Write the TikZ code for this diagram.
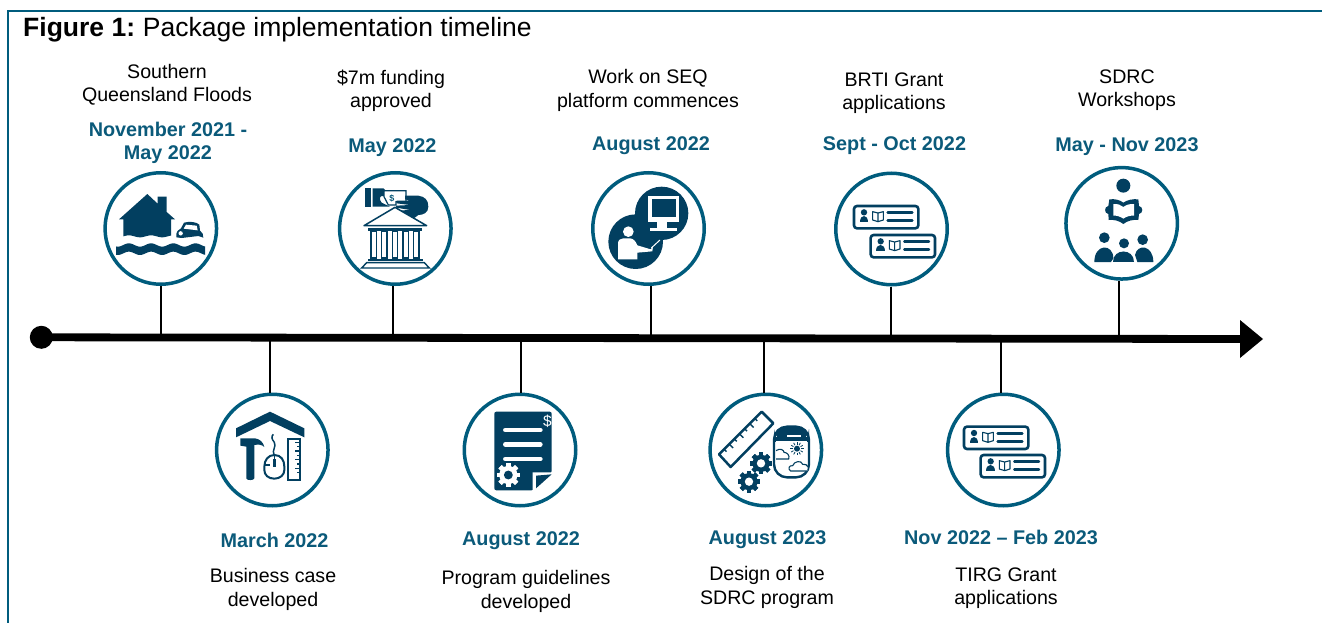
\documentclass[tikz,border=0pt]{standalone}
\usepackage{fontspec}
\setmainfont{Liberation Sans}
\definecolor{ringc}{HTML}{005C7D}
\definecolor{darkc}{HTML}{023F60}
\definecolor{datec}{HTML}{0B5A7A}
\tikzset{
  ring/.style={circle,draw=ringc,line width=3.5pt,fill=white,minimum size=111.5pt,inner sep=0pt},
  stem/.style={draw=black,line width=1.7pt},
  lab/.style={font=\fontsize{19.6}{23.2}\selectfont,align=center,text=black,inner sep=0pt,yshift=-2pt},
  dat/.style={font=\fontsize{19.8}{23.2}\selectfont\bfseries,align=center,text=datec,inner sep=0pt,yshift=-2pt},
  zoomed/.style={x=0.33333pt,y=-0.33333pt},
  cardicon/.pic={
    \draw[darkc,line width=2.6pt,rounded corners=3pt] (0,0) rectangle (193,67);
    \fill[darkc] (30,19) circle[radius=9.5];
    \fill[darkc] (17,48) .. controls (17,25) and (43,25) .. (43,48) -- cycle;
    \draw[darkc,line width=1.1pt,line join=round] (56,17) -- (72,21) -- (88,17) -- (88,42) -- (72,47) -- (56,42) -- cycle (72,21) -- (72,47);
    \draw[darkc,line width=2.4pt,line cap=round] (101,20) -- (175,20) (101,44) -- (175,44);
  }
}
\newcommand{\gearglyph}[5]{%
  \foreach \a in {0,45,...,315}{
    \fill[#4,rotate around={\a:(#1,#2)}] (#1-0.2*#3,#2-#3) rectangle (#1+0.2*#3,#2+#3);
  }
  \fill[#4] (#1,#2) circle[radius=0.78*#3];
  \fill[#5] (#1,#2) circle[radius=0.38*#3];
}
\begin{document}
\begin{tikzpicture}[x=1pt,y=-1pt]
\useasboundingbox (0,0) rectangle (1322,623);
% frame
\coordinate (fa) at (8,623);
\coordinate (fb) at (8,11);
\coordinate (fc) at (1322,11);
\draw[ringc,line width=2pt] (fa) -- (fb) -- (fc);
\node[anchor=west,inner sep=0pt,font=\fontsize{26.5}{30}\selectfont] (title) at (23,30) {\textbf{Figure 1:}\kern-2pt{} Package implementation timeline};
% axis
\coordinate (start) at (41.3,337.3);
\coordinate (end) at (1240,339);
\coordinate (tip) at (1263,339);
\coordinate (a1) at (160.7,337);
\coordinate (a2) at (392.7,337);
\coordinate (a3) at (651.3,337);
\coordinate (a4) at (891,338);
\coordinate (a5) at (1119,338);
\coordinate (b1) at (270,337);
\coordinate (b2) at (521.3,337);
\coordinate (b3) at (764,338);
\coordinate (b4) at (1001.3,338);
% circles
\node[ring] (c1) at (160.8,228.5) {};
\node[ring] (c2) at (395.3,228.5) {};
\node[ring] (c3) at (648.5,228.5) {};
\node[ring] (c4) at (891.5,229) {};
\node[ring] (c5) at (1121.7,223.3) {};
\node[ring] (d1) at (272.3,450) {};
\node[ring] (d2) at (520,450) {};
\node[ring] (d3) at (765.8,450) {};
\node[ring] (d4) at (1003.3,450) {};
% stems
\foreach \p/\q in {a1/c1,a2/c2,a3/c3,a4/c4,a5/c5}{
  \draw[stem] (\p) -- (\p |- \q.south);
}
\foreach \p/\q in {b1/d1,b2/d2,b3/d3,b4/d4}{
  \draw[stem] (\p) -- (\p |- \q.north);
}
\draw[black,line width=7.8pt] (start) -- (end);
\fill[black] (start) circle[radius=11.5];
\fill[black] (1240,320) -- (tip) -- (1240,358) -- cycle;
% labels top
\node[lab] (t1) at (167,82.5) {Southern\\Queensland Floods};
\node[dat] (u1) at (168,140.5) {November 2021 -\\May 2022};
\node[lab] (t2) at (391,88.5) {\$7m funding\\approved};
\node[dat] (u2) at (392.5,145.5) {May 2022};
\node[lab] (t3) at (648,88.5) {Work on SEQ\\platform commences};
\node[dat] (u3) at (651,143.5) {August 2022};
\node[lab] (t4) at (894,91.5) {BRTI Grant\\applications};
\node[dat] (u4) at (894.5,143.5) {Sept - Oct 2022};
\node[lab] (t5) at (1127,88.5) {SDRC\\Workshops};
\node[dat] (u5) at (1127,144.5) {May - Nov 2023};
% labels bottom
\node[dat] (v1) at (274.5,538) {March 2022};
\node[lab] (w1) at (273,587.5) {Business case\\developed};
\node[dat] (v2) at (521,539) {August 2022};
\node[lab] (w2) at (526,589.5) {Program guidelines\\developed};
\node[dat] (v3) at (767.5,538) {August 2023};
\node[lab] (w3) at (767,585.5) {Design of the\\SDRC program};
\node[dat] (v4) at (1001,535) {Nov 2022 – Feb 2023};
\node[lab] (w4) at (1006,586) {TIRG Grant\\applications};
% ---------- icon 1 and 2
\begin{scope}[shift={(90pt,-160pt)},zoomed]
  \fill[darkc] (172,102) -- (203,131) -- (203,110) -- (230,110) -- (230,156) -- (255,178) -- (243,178)
     -- plot[domain=243:100,samples=30] (\x,{229+3*sin(\x*5.4)}) -- (100,178) -- (87,178) -- cycle;
  \fill[darkc] plot[domain=78:345,samples=60] (\x,{255+5*sin(\x*5.4)}) -- plot[domain=345:78,samples=60] (\x,{280+5*sin(\x*5.4)}) -- cycle;
  \fill[darkc] (259,232) .. controls (257,214) and (266,208) .. (273,205) -- (282,188) .. controls (300,183) and (320,186) .. (328,194) -- (330,212) .. controls (338,216) and (340,224) .. (340,233) -- (325,228) -- (275,234) -- cycle;
  \fill[white] (288,194) -- (320,197) -- (323,211) -- (281,206) -- cycle;
  \fill[white] (272,220) circle[radius=6.5];
  % hand and bank
  \fill[darkc] (826,85) rectangle (843,140);
  \fill[darkc] (848,85) -- (880,85) -- (903,108) -- (875,108) .. controls (868,110) and (868,120) .. (875,128) -- (900,140) -- (848,140) -- cycle;
  \draw[darkc,line width=1.2pt,fill=white] (882,92) -- (948,92) -- (948,125) -- (918,125) -- (918,135) -- (895,135) -- (882,110) -- cycle;
  \node[inner sep=0pt,text=datec,font=\fontsize{9}{9}\selectfont\bfseries] (d) at (906,115) {\$};
  \fill[darkc] (945,107) -- (985,107) .. controls (1005,110) and (1015,120) .. (1015,140) .. controls (1015,158) and (1000,165) .. (985,165) -- (968,178) -- (932,178) -- (932,170) -- (960,168) -- (918,160) -- (918,152) -- (960,150) -- (918,143) -- (918,137) -- (960,135) -- (920,130) -- (920,122) -- (960,122) -- (945,118) -- cycle;
  \draw[darkc,line width=1.5pt,fill=white,line join=round] (915,142) -- (822,197) -- (1010,197) -- cycle;
  \fill[darkc] (835,205) rectangle (997,212);
  \foreach \cx in {851,883,915,947,979}{
    \draw[darkc,line width=1.2pt] (\cx-8,214) rectangle (\cx+8,294);
  }
  \fill[darkc] (833,296) rectangle (1000,302);
  \draw[darkc,line width=1.4pt] (815,324) -- (830,308) -- (1003,308) -- (1018,324) -- cycle;
\end{scope}
% ---------- icon 3 and 4
\begin{scope}[shift={(580pt,-160pt)},zoomed]
  \fill[darkc] (245,160) circle[radius=80];
  \fill[darkc] (167,245) circle[radius=82];
  \fill[white] (205,108) rectangle (297,185);
  \fill[darkc] (217,118) rectangle (287,170);
  \fill[white] (232,185) rectangle (262,205);
  \fill[white] (210,204) rectangle (292,213);
  \fill[white] (145,215) circle[radius=16];
  \fill[white] (114,298) -- (114,250) .. controls (114,240) and (122,235) .. (130,235) -- (150,235) .. controls (160,235) and (168,245) .. (172,256) -- (212,268) -- (219,260) -- (217,274) -- (172,278) -- (172,298) -- cycle;
  \draw[white,line width=1pt] (214,264) -- (240,240);
  \pic at (822,138) {cardicon};
  \pic at (872,225) {cardicon};
\end{scope}
% ---------- icon 5
\begin{scope}[shift={(1050pt,-160pt)},zoomed]
  \fill[darkc] (220,77) circle[radius=21];
  \fill[darkc] (178,118) .. controls (195,116) and (210,120) .. (220,128) .. controls (230,120) and (250,116) .. (265,118) -- (267,138) .. controls (280,140) and (280,160) .. (267,162) -- (265,180) .. controls (250,178) and (232,182) .. (220,192) .. controls (208,182) and (190,178) .. (176,180) -- (175,162) .. controls (162,160) and (162,140) .. (175,138) -- cycle;
  \fill[white] (190,132) .. controls (203,131) and (213,135) .. (220,141) .. controls (227,135) and (240,131) .. (252,132) -- (252,167) .. controls (240,166) and (228,170) .. (220,176) .. controls (212,170) and (200,166) .. (190,167) -- cycle;
  \fill[darkc] (163,233) circle[radius=16];
  \fill[darkc] (222,250) circle[radius=15];
  \fill[darkc] (278,239) circle[radius=16];
  \fill[darkc] (133,306) .. controls (133,250) and (190,250) .. (190,295) -- (183,306) -- cycle;
  \fill[darkc] (310,306) .. controls (310,255) and (262,250) .. (255,285) -- (262,306) -- cycle;
  \fill[darkc] (190,307) .. controls (190,265) and (252,265) .. (252,307) -- cycle;
\end{scope}
% ---------- icon 6 and 7
\begin{scope}[shift={(205pt,-385pt)},zoomed]
  \fill[darkc] (93,130) -- (195,80) -- (298,130) -- (298,157) -- (195,108) -- (93,157) -- cycle;
  \fill[darkc] (106,160) -- (150,160) .. controls (165,162) and (175,172) .. (178,186) .. controls (170,178) and (160,178) .. (148,180) -- (148,280) .. controls (148,287) and (124,287) .. (124,280) -- (124,185) -- (106,182) -- cycle;
  \draw[darkc,line width=2pt] (208,210) .. controls (228,210) and (238,225) .. (238,245) -- (238,255) .. controls (238,270) and (225,281) .. (208,281) .. controls (190,281) and (178,270) .. (178,255) -- (178,245) .. controls (178,225) and (190,210) .. cycle;
  \draw[darkc,line width=1.5pt] (208,210) -- (208,228) (178,240) -- (195,240);
  \fill[darkc] (203,222) rectangle (213,245);
  \draw[darkc,line width=1.5pt] (207,210) .. controls (200,195) and (215,185) .. (208,172) .. controls (200,162) and (198,155) .. (205,148);
  \draw[darkc,line width=2pt] (250,161) rectangle (284,284);
  \foreach \ty/\tl in {172/14,185/9,198/14,211/9,224/14,237/9,250/14,263/9}{
    \draw[darkc,line width=1.3pt] (284,\ty) -- (284-\tl,\ty);
  }
  % document
  \fill[darkc,rounded corners=2pt] (868,80) -- (1040,80) -- (1040,264) -- (985,316) -- (868,316) -- cycle;
  \fill[white] (983,316) -- (983,262) -- (1042,262) -- (1042,268) -- (990,318) -- cycle;
  \fill[darkc] (993,310) -- (993,272) -- (1040,268) -- cycle;
  \foreach \by in {135,178,222}{
    \draw[white,line width=4.6pt,line cap=round] (901,\by) -- (1006,\by);
  }
  \node[inner sep=0pt,text=white,font=\fontsize{15.5}{16}\selectfont] (dd) at (1027,110) {\$};
  \gearglyph{910}{270}{35}{white}{darkc}
\end{scope}
% ---------- icon 8 and 9
\begin{scope}[shift={(700pt,-385pt)},zoomed]
  \draw[darkc,line width=2.5pt,line join=round] (185,80) -- (220,115) -- (92,246) -- (57,208) -- cycle;
  \foreach \tt/\tl in {0.12/10,0.24/16,0.36/10,0.48/16,0.6/10,0.72/16,0.84/10}{
    \draw[darkc,line width=1.5pt] ({57+\tt*128},{208-\tt*128}) -- ++({\tl*0.72},{\tl*0.72});
  }
  \gearglyph{183}{235}{33}{darkc}{white}
  \gearglyph{147}{290}{33}{darkc}{white}
  \draw[darkc,line width=2.4pt,fill=white,rounded corners=13pt] (222,125) rectangle (327,277);
  \fill[darkc,rounded corners=12pt] (222,168) -- (222,125) -- (327,125) -- (327,168) -- cycle;
  \fill[darkc] (224,155) rectangle (325,170);
  \fill[white] (262,149) rectangle (302,157);
  \fill[white] (229,168) rectangle (320,175);
  \fill[darkc] (291,191) circle[radius=9];
  \foreach \a in {0,30,...,330}{
    \draw[darkc,line width=0.8pt] (291,191) ++(\a:12) -- ++(\a:8);
  }
  \draw[darkc,line width=1.1pt,fill=white] (228,197) .. controls (240,188) and (252,195) .. (252,202) .. controls (262,202) and (270,212) .. (266,222) -- (228,222);
  \draw[darkc,line width=1.1pt,fill=white] (322,258) -- (272,258) .. controls (262,252) and (268,240) .. (278,242) .. controls (282,228) and (305,225) .. (308,238) .. controls (315,236) and (322,240) .. (323,245);
  \pic at (792,125) {cardicon};
  \pic at (842,210) {cardicon};
\end{scope}
\end{tikzpicture}
\end{document}
